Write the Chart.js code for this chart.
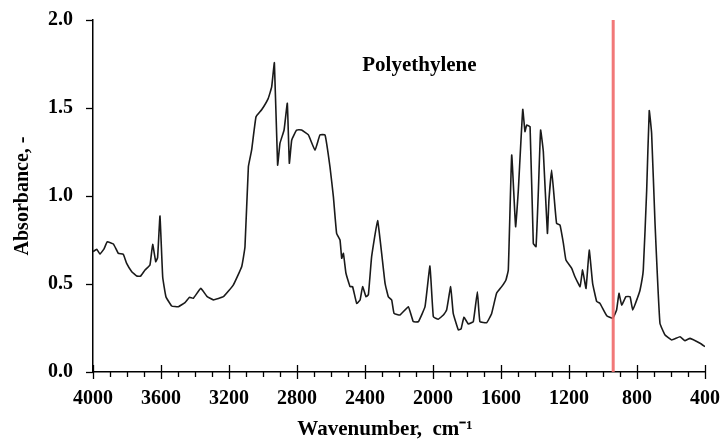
<!DOCTYPE html>
<html>
<head>
<meta charset="utf-8">
<script src="https://cdn.jsdelivr.net/npm/chart.js@4"></script>
<style>
  body { margin: 0; background: #fff; }
  #wrap { width: 726px; height: 443px; position: relative; }
</style>
</head>
<body>
<div id="wrap"><canvas id="chart"></canvas></div>
<script>
// IR spectrum (wavenumber in cm-1, absorbance)
const wavenumber = [4000, 3978, 3959, 3935, 3916, 3880, 3851, 3822, 3802, 3772, 3743, 3720, 3694, 3665, 3649, 3631, 3620, 3606, 3590, 3571,
  3537, 3498, 3459, 3433, 3410, 3366, 3330, 3292, 3233, 3175, 3125, 3106, 3086, 3067, 3041, 3008, 2969, 2949, 2933, 2914,
  2900, 2876, 2857, 2845, 2831, 2802, 2773, 2733, 2694, 2665, 2635, 2606, 2586, 2567, 2547, 2537, 2527, 2512, 2488, 2473,
  2449, 2429, 2414, 2394, 2380, 2361, 2326, 2302, 2282, 2263, 2243, 2229, 2194, 2145, 2116, 2086, 2047, 2018, 1998, 1969,
  1939, 1920, 1896, 1881, 1851, 1835, 1818, 1792, 1763, 1739, 1724, 1684, 1655, 1626, 1596, 1571, 1557, 1537, 1514, 1498,
  1472, 1459, 1449, 1429, 1410, 1394, 1380, 1367, 1351, 1327, 1318, 1302, 1286, 1273, 1253, 1233, 1218, 1184, 1165, 1135,
  1120, 1100, 1081, 1061, 1037, 1018, 978, 943, 920, 906, 890, 865, 841, 825, 798, 782, 763, 743, 728, 714,
  694, 665, 635, 596, 547, 518, 488, 429, 400];
const absorbance = [0.684, 0.697, 0.670, 0.700, 0.740, 0.727, 0.674, 0.669, 0.617, 0.570, 0.545, 0.545, 0.580, 0.608, 0.725, 0.627, 0.650, 0.886, 0.540, 0.428,
  0.375, 0.371, 0.394, 0.424, 0.419, 0.475, 0.430, 0.410, 0.428, 0.494, 0.600, 0.712, 1.166, 1.260, 1.450, 1.490, 1.555, 1.620, 1.757, 1.176,
  1.300, 1.375, 1.527, 1.186, 1.318, 1.375, 1.375, 1.347, 1.260, 1.347, 1.347, 1.166, 0.996, 0.788, 0.750, 0.646, 0.674, 0.561, 0.485, 0.485,
  0.390, 0.409, 0.485, 0.428, 0.440, 0.655, 0.860, 0.674, 0.504, 0.428, 0.409, 0.333, 0.324, 0.371, 0.286, 0.286, 0.371, 0.602, 0.314, 0.300,
  0.324, 0.352, 0.485, 0.333, 0.239, 0.245, 0.311, 0.273, 0.286, 0.456, 0.286, 0.280, 0.333, 0.447, 0.485, 0.523, 0.580, 1.233, 0.826, 1.034,
  1.492, 1.366, 1.403, 1.394, 0.731, 0.712, 1.034, 1.375, 1.252, 0.788, 0.977, 1.148, 0.977, 0.845, 0.835, 0.731, 0.636, 0.589, 0.541, 0.485,
  0.580, 0.475, 0.693, 0.504, 0.400, 0.390, 0.320, 0.305, 0.352, 0.447, 0.380, 0.428, 0.428, 0.352, 0.419, 0.466, 0.580, 1.034, 1.485, 1.356,
  0.845, 0.277, 0.210, 0.182, 0.200, 0.178, 0.191, 0.163, 0.144];

const markerLine = 940; // red vertical line position
const xMajorTicks = [4000, 3600, 3200, 2800, 2400, 2000, 1600, 1200, 800, 400];
const xMinorStep = 100;
const yTicks = [0, 0.5, 1.0, 1.5, 2.0];

const FONT = "'Liberation Serif', 'Times New Roman', serif";

// tick marks like the original: y ticks point left, x major ticks cross the axis
const tickMarks = {
  id: "tickMarks",
  afterDraw(chart) {
    const {ctx, scales: {x, y}} = chart;
    ctx.save();
    ctx.strokeStyle = "#000";
    ctx.lineWidth = 1.3;
    const yb = y.getPixelForValue(0);
    for (let w = 4000; w >= 400; w -= xMinorStep) {
      const px = Math.round(x.getPixelForValue(w)) + 0.5;
      const major = xMajorTicks.includes(w);
      ctx.beginPath();
      ctx.moveTo(px, major ? yb - 7 : yb);
      ctx.lineTo(px, yb + (major ? 7 : 5));
      ctx.stroke();
    }
    const xl = x.left;
    yTicks.forEach(v => {
      const py = Math.round(y.getPixelForValue(v)) + 0.5;
      ctx.beginPath();
      ctx.moveTo(xl - 7, py);
      ctx.lineTo(xl, py);
      ctx.stroke();
    });
    ctx.fillStyle = "#000";
    ctx.textAlign = "center";
    ctx.textBaseline = "middle";
    // label inside the plot
    ctx.font = "bold 21px " + FONT;
    ctx.fillText("Polyethylene", x.getPixelForValue(2080), y.getPixelForValue(1.74));
    // x axis title sits a little left of centre in the original
    ctx.fillText("Wavenumber,  cm\u207B\u00B9", (x.left + x.right) / 2 - 14, 430);
    ctx.restore();
  }
};

new Chart(document.getElementById("chart").getContext("2d"), {
  type: "line",
  data: {
    datasets: [{
      data: [{x: markerLine, y: 0}, {x: markerLine, y: 2}],
      borderColor: "rgba(240, 105, 105, 0.9)",
      borderWidth: 3,
      pointRadius: 0,
      order: 0
    }, {
      label: "Polyethylene",
      data: wavenumber.map((w, i) => ({x: w, y: absorbance[i]})),
      borderColor: "#1a1a1a",
      borderWidth: 1.6,
      pointRadius: 0,
      tension: 0.1,
      fill: false,
      order: 1
    }]
  },
  options: {
    responsive: true,
    maintainAspectRatio: false,
    animation: false,
    layout: {padding: {top: 20, right: 21, bottom: 0, left: 0}},
    plugins: {legend: {display: false}, tooltip: {enabled: false}},
    scales: {
      x: {
        type: "linear",
        min: 400,
        max: 4000,
        reverse: true,
        afterFit(s) { s.height = 71; s.paddingLeft = 0; s.paddingRight = 0; },
        grid: {drawOnChartArea: false, drawTicks: false},
        border: {color: "#000", width: 1.5},
        ticks: {
          stepSize: 400,
          padding: 15,
          maxRotation: 0,
          color: "#000",
          font: {family: FONT, size: 20, weight: "bold"},
          callback: v => String(v)
        },
        title: {display: false}
      },
      y: {
        min: 0,
        max: 2,
        afterFit(s) { s.width = 93; s.paddingTop = 0; s.paddingBottom = 0; },
        grid: {drawOnChartArea: false, drawTicks: false},
        border: {color: "#000", width: 1.5},
        ticks: {
          stepSize: 0.5,
          padding: 20,
          color: "#000",
          font: {family: FONT, size: 20, weight: "bold"},
          callback: v => v.toFixed(1)
        },
        title: {
          display: true,
          text: "Absorbance, -",
          color: "#000",
          font: {family: FONT, size: 20, weight: "bold"},
          padding: {top: 11, bottom: 0}
        }
      }
    }
  },
  plugins: [tickMarks]
});
</script>
</body>
</html>
